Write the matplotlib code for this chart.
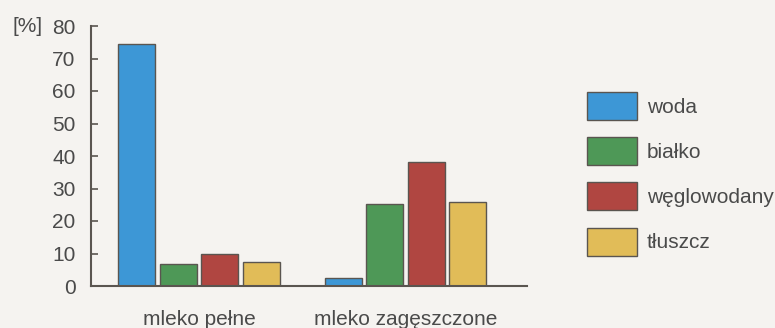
import numpy as np
import matplotlib
matplotlib.use('Agg')
import matplotlib.pyplot as plt

plt.rcParams['font.family'] = ['Liberation Sans', 'DejaVu Sans']

groups = ['mleko pełne', 'mleko zagęszczone']
series = ['woda', 'białko', 'węglowodany', 'tłuszcz']
woda = [74.6, 2.5]
bialko = [6.8, 25.2]
weglowodany = [9.9, 38.2]
tluszcz = [7.4, 26.0]
colors = ['#3d97d6', '#4e9857', '#b04641', '#e1bc58']

bg = '#f5f3f0'
txt = '#4a4a4a'
edge = '#5a5550'
fs = 15

fig = plt.figure(figsize=(7.75, 3.28), dpi=100, facecolor=bg)
ax = fig.add_axes([91 / 775, 1 - 286 / 328, (527 - 91) / 775, (286 - 26) / 328])
ax.set_facecolor(bg)

x = np.arange(len(groups))
width = 0.179
slot = 0.201
values = [woda, bialko, weglowodany, tluszcz]
for i, (name, vals) in enumerate(zip(series, values)):
    ax.bar(x + (i - 1.5) * slot, vals, width, color=colors[i], edgecolor=edge,
           linewidth=1.0, label=name)

ax.set_xlim(-0.523, 1.588)
ax.set_ylim(0, 80)
ax.set_yticks(np.arange(0, 81, 10))
ax.set_xticks(x)
ax.set_xticklabels(groups)

for s in ['top', 'right']:
    ax.spines[s].set_visible(False)
for s in ['left', 'bottom']:
    ax.spines[s].set_color(edge)
    ax.spines[s].set_linewidth(1.5)

ax.tick_params(axis='y', direction='in', length=5, width=1.2, color=edge,
               labelsize=fs, labelcolor=txt, pad=11)
ax.tick_params(axis='x', length=0, labelsize=fs, labelcolor=txt, pad=17)

fig.text(43 / 775, 1 - 27 / 328, '[%]', ha='right', va='center',
         fontsize=fs, color=txt)

leg = fig.legend(loc='upper left', bbox_to_anchor=(579 / 775, 1 - 84 / 328),
                 frameon=False, fontsize=fs, handlelength=2.4,
                 handleheight=1.69, labelspacing=0.82, handletextpad=0.45,
                 borderaxespad=0)
for t in leg.get_texts():
    t.set_color(txt)

plt.savefig('out.png', dpi=100, facecolor=bg)
